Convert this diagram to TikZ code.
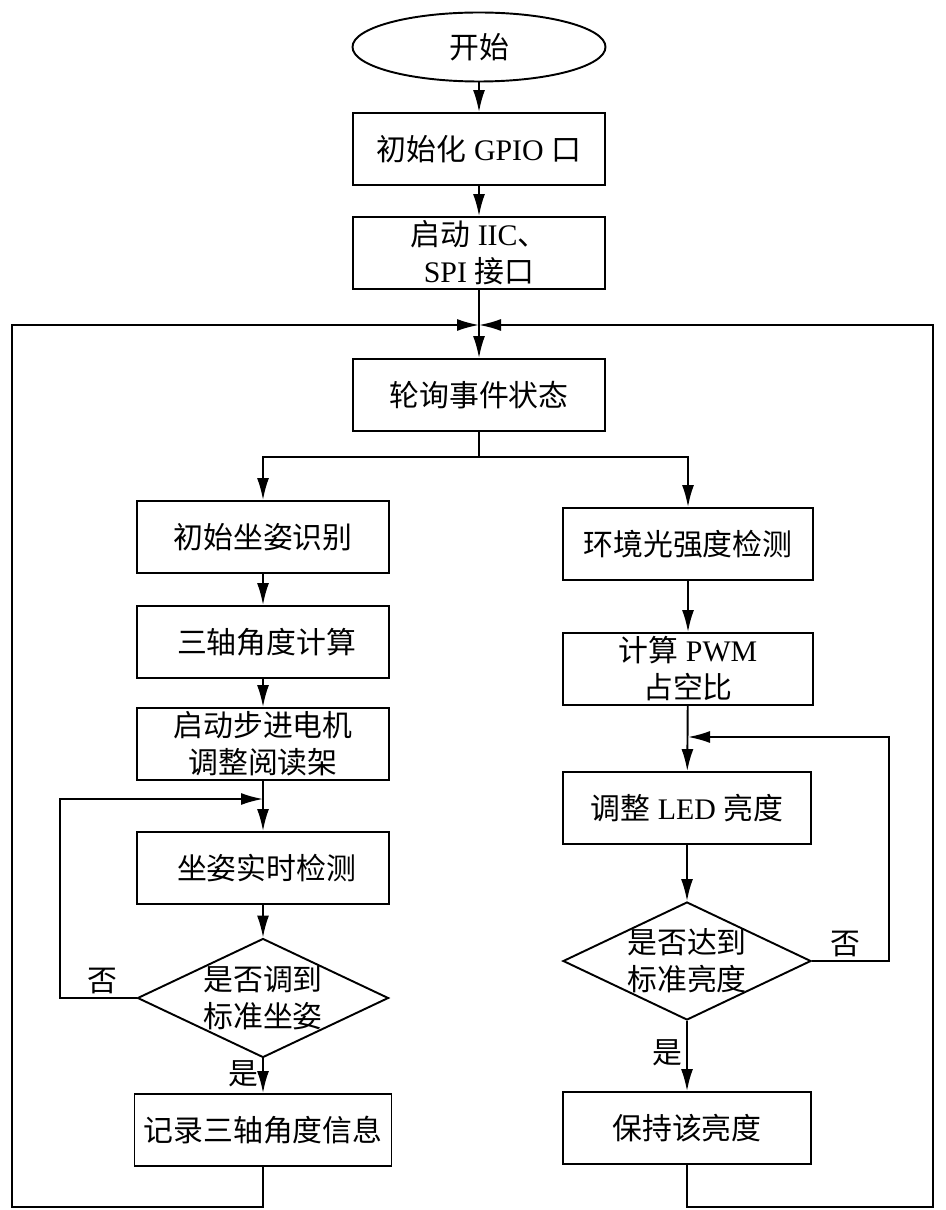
\documentclass[tikz,border=0pt]{standalone}
\usepackage{fontspec}
\setmainfont{Liberation Serif}
\newfontfamily\cjk{Noto Sans CJK SC}
\newcommand\zh[1]{{\cjk #1}}
\usetikzlibrary{shapes.geometric,arrows.meta}

\begin{document}
\begin{tikzpicture}[
    line width=1.1pt,
    every node/.style={font=\fontsize{17}{21}\selectfont},
    box/.style={draw, rectangle, minimum width=5.04cm, minimum height=1.44cm, inner sep=0pt, align=center},
    startstop/.style={draw, ellipse, minimum width=5.06cm, minimum height=1.38cm, inner sep=0pt},
    decision/.style={draw, diamond, minimum width=5.02cm, minimum height=2.38cm, inner sep=0pt},
    arr/.style={-{Latex[length=0.44cm, width=0.24cm]}},
    lbl/.style={inner sep=2pt}
  ]
  \useasboundingbox (0, 0) rectangle (18.9, -24.2);
  % Main
  \node [startstop] (start) at (9.58, -0.94) {\zh{开始}};
  \node [box] (gpio) at (9.58, -2.98) {\zh{初始化} GPIO \zh{口}};
  \node [box] (iic) at (9.58, -5.06) {\zh{启动} IIC\zh{、}\\SPI \zh{接口}};
  \node [box] (poll) at (9.58, -7.9) {\zh{轮询事件状态}};
  \coordinate (join) at (9.58, -6.5);
  \coordinate (split) at (9.58, -9.14);
  \draw [arr] (start) -- (gpio);
  \draw [arr] (gpio) -- (iic);
  \draw [arr] (iic) -- (poll);
  % Left branch
  \node [box] (sit) at (5.26, -10.74) {\zh{初始坐姿识别}};
  \node [box] (angle) at (5.26, -12.84) {~\zh{三轴角度计算}};
  \node [box] (motor) at (5.26, -14.88) {\zh{启动步进电机}\\\zh{调整阅读架}};
  \node [box] (detect) at (5.26, -17.36) {~\zh{坐姿实时检测}};
  \node [decision] (okpose) at (5.26, -19.96) {};
  \node [align=center] (okposetxt) at (okpose) {\zh{是否调到}\\\zh{标准坐姿}};
  \node [box, minimum width=5.14cm] (record) at (5.26, -22.6) {\zh{记录三轴角度信息}};
  \coordinate (mergel) at (5.26, -15.98);
  \draw [arr] (poll) -- (split) -| (sit);
  \draw [arr] (sit) -- (angle);
  \draw [arr] (angle) -- (motor);
  \draw [arr] (motor) -- (detect);
  \draw [arr] (detect) -- (okpose);
  \draw [arr] (okpose) -- node [lbl, left, pos=0.45] (yesl) {\zh{是}} (record);
  \draw [arr] (okpose.west) -- node [lbl, above, pos=0.44] (nol) {\zh{否}} (1.2, -19.96) |- (mergel);
  \draw [arr] (record) -- (5.26, -24.14) -- (0.24, -24.14) |- (join);
  % Right branch
  \node [box, minimum width=5.0cm] (light) at (13.76, -10.88) {\zh{环境光强度检测}};
  \node [box, minimum width=5.0cm] (pwm) at (13.76, -13.38) {\zh{计算} PWM\\\zh{占空比}};
  \node [box, minimum width=4.96cm] (led) at (13.74, -16.16) {\zh{调整} LED \zh{亮度}};
  \node [decision, minimum width=4.96cm, minimum height=2.36cm] (oklight) at (13.74, -19.22) {};
  \node [align=center] (oklighttxt) at (oklight) {\zh{是否达到}\\\zh{标准亮度}};
  \node [box, minimum width=4.96cm] (keep) at (13.74, -22.56) {\zh{保持该亮度}};
  \coordinate (merger) at (13.76, -14.74);
  \draw [arr] (split) -| (light);
  \draw [arr] (light) -- (pwm);
  \draw [arr] (pwm) -- (led);
  \draw [arr] (led) -- (oklight);
  \draw [arr] (oklight) -- node [lbl, left, pos=0.45] (yesr) {\zh{是}} (keep);
  \draw [arr] (oklight.east) -- node [lbl, above, pos=0.44] (nor) {\zh{否}} (17.78, -19.22) |- (merger);
  \draw [arr] (keep) -- (13.74, -24.14) -- (18.66, -24.14) |- (join);
\end{tikzpicture}
\end{document}
